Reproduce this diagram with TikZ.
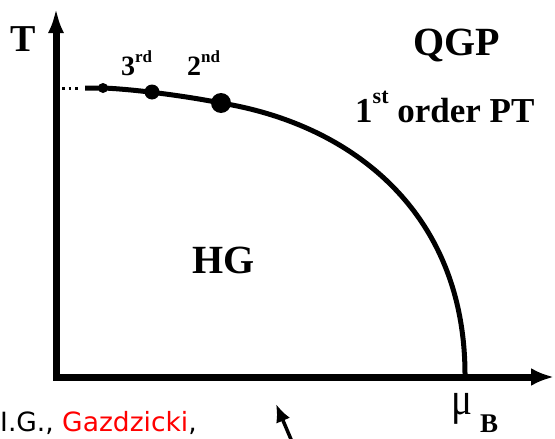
\documentclass[tikz,border=0pt]{standalone}
\usepackage{fontspec}
\setmainfont{Liberation Serif}
\newfontfamily\tahfont{DejaVu Sans}
\usetikzlibrary{arrows.meta}
\begin{document}
\begin{tikzpicture}[x=1pt,y=-1pt,
  axis/.style={line width=7pt, line join=miter},
  curve/.style={line width=5pt},
  lbl/.style={inner sep=0pt, anchor=base west},
  dotn/.style={circle, fill, inner sep=0pt}]
\useasboundingbox (0,0) rectangle (555,439);
% axes
\coordinate (O) at (56,377);
\coordinate (Ytip) at (56,8);
\coordinate (Xtip) at (554,377);
\draw[axis, {Latex[length=25pt,width=16pt]}-{Latex[length=23pt,width=18pt]}] (Ytip) -- (O) -- (Xtip);
% dotted start
\coordinate (s0) at (62,88);
\coordinate (s1) at (81,88);
\draw[line width=3pt, dash pattern=on 2.5pt off 4pt] (s0) -- (s1);
% critical points
\node[dotn, minimum size=10pt] (d3) at (103,88) {};
\node[dotn, minimum size=15pt] (d2) at (152,92) {};
\node[dotn, minimum size=20pt] (d1) at (221,103) {};
\coordinate (c0) at (85,88);
\coordinate (cend) at (465,377);
\draw[curve] (c0) -- (d3.center) .. controls (130,89) and (180,95) .. (d1.center)
  .. controls (355,125) and (466,215) .. (cend);
% labels
\node[lbl, font=\bfseries\fontsize{38}{38}\selectfont] (T) at (10,52) {T};
\node[lbl, font=\bfseries\fontsize{28}{28}\selectfont] (n3) at (121,75) {3\raisebox{13pt}{\fontsize{17}{17}\selectfont rd}};
\node[lbl, font=\bfseries\fontsize{28}{28}\selectfont] (n2) at (187,75) {2\raisebox{13pt}{\fontsize{17}{17}\selectfont nd}};
\node[lbl, font=\bfseries\fontsize{40}{40}\selectfont] (qgp) at (413,55) {QGP};
\node[lbl, font=\bfseries\fontsize{35}{35}\selectfont] (pt) at (355,122) {1\raisebox{19pt}{\fontsize{22}{22}\selectfont st} order PT};
\node[lbl, font=\bfseries\fontsize{40}{40}\selectfont] (hg) at (192,273) {HG};
\node[lbl, font=\fontsize{46}{46}\selectfont] (mu) at (451,414) {\scalebox{0.85}[1]{μ}};
\node[lbl, font=\bfseries\fontsize{27}{27}\selectfont] (B) at (480,432) {B};
\node[lbl, font=\tahfont\fontsize{26.5}{26.5}\selectfont] (ref) at (0,431) {I.G., \textcolor{red}{Gazdzicki},};
% pointer arrow
\coordinate (a1) at (293,444);
\coordinate (a2) at (276,404);
\draw[line width=3.5pt, -{Latex[length=18pt,width=15pt]}] (a1) -- (a2);
\end{tikzpicture}
\end{document}
